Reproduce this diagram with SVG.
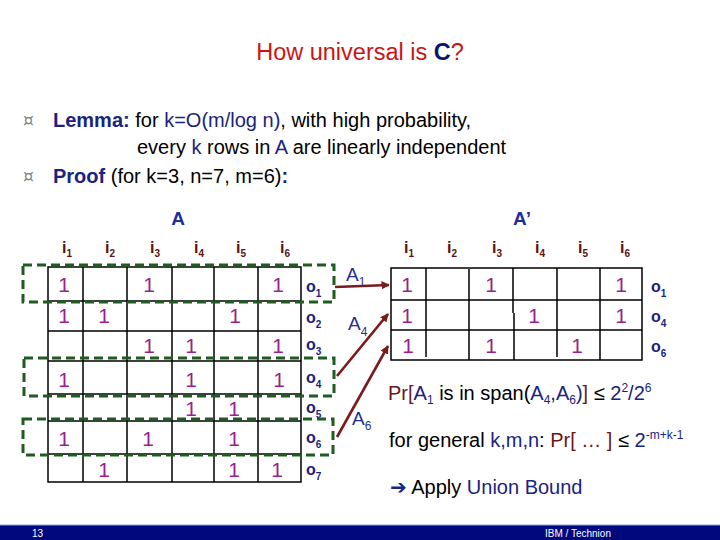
<svg xmlns="http://www.w3.org/2000/svg" width="720" height="540" viewBox="0 0 720 540">
<defs>
<style>
text{font-family:"Liberation Sans",Arial,sans-serif;}
.grid{stroke:#000;stroke-width:1.5;fill:none;}
.dash{stroke:#1f5c1f;stroke-width:3;fill:none;stroke-dasharray:9 5;}
.one{font-size:21px;fill:#9a1f8c;text-anchor:middle;}
.ol{font-size:16px;font-weight:bold;fill:#1a237e;}
.il{font-size:16px;font-weight:bold;fill:#5c1010;}
.sub{font-size:10px;}
.body{font-size:20px;fill:#000;}
.nv{fill:#1a237e;}
.dr{fill:#6b1616;}
.bul{font-size:17px;fill:#7a8a8a;font-family:"DejaVu Sans",sans-serif;}
.arr{stroke:#7a1a1a;stroke-width:2.6;fill:none;}
.al{font-size:19px;fill:#1f2f8f;}
</style>
<marker id="ah" viewBox="0 0 10 10" refX="9" refY="5" markerWidth="3.2" markerHeight="3.2" orient="auto" markerUnits="strokeWidth">
<path d="M0,0 L10,5 L0,10 z" fill="#7a1a1a"/>
</marker>
</defs>
<rect width="720" height="540" fill="#fff"/>

<g id="title">
<text x="360" y="60" font-size="23.5" text-anchor="middle" fill="#cc1414">How universal is <tspan fill="#0a1470" font-weight="bold">C</tspan>?</text>
</g>

<g id="bullets">
<text class="bul" x="23" y="126">¤</text>
<text class="body" x="53" y="127"><tspan font-weight="bold" class="nv">Lemma:</tspan> for <tspan class="nv">k=O(m/log n)</tspan>, with high probability,</text>
<text class="body" x="137" y="154">every <tspan class="nv">k</tspan> rows in <tspan class="nv">A</tspan> are linearly independent</text>
<text class="bul" x="23" y="182">¤</text>
<text class="body" x="53" y="183"><tspan font-weight="bold" class="nv">Proof</tspan> (for k=3, n=7, m=6)<tspan font-weight="bold" class="nv">:</tspan></text>
</g>

<g id="matrixA">
<text x="178" y="225" font-size="19" font-weight="bold" fill="#1c2c9c" text-anchor="middle">A</text>
<text class="il" x="62" y="253">i<tspan class="sub" dy="4">1</tspan></text>
<text class="il" x="105" y="253">i<tspan class="sub" dy="4">2</tspan></text>
<text class="il" x="150" y="253">i<tspan class="sub" dy="4">3</tspan></text>
<text class="il" x="194" y="253">i<tspan class="sub" dy="4">4</tspan></text>
<text class="il" x="236" y="253">i<tspan class="sub" dy="4">5</tspan></text>
<text class="il" x="280" y="253">i<tspan class="sub" dy="4">6</tspan></text>
<path class="grid" d="M48,267H301V482H48Z M48,301H301 M48,331H301 M48,361H301 M48,394H301 M48,421H301 M48,454H301 M83,267V482 M127,267V482 M172,267V482 M214,267V482 M258,267V482"/>
<text class="one" x="64" y="292">1</text><text class="one" x="149" y="292">1</text><text class="one" x="278" y="292">1</text>
<text class="one" x="64" y="323">1</text><text class="one" x="104" y="323">1</text><text class="one" x="235" y="323">1</text>
<text class="one" x="149" y="353">1</text><text class="one" x="191" y="353">1</text><text class="one" x="278" y="353">1</text>
<text class="one" x="64" y="387">1</text><text class="one" x="191" y="387">1</text><text class="one" x="279" y="387">1</text>
<text class="one" x="191" y="416">1</text><text class="one" x="234" y="416">1</text>
<text class="one" x="64" y="446">1</text><text class="one" x="148" y="446">1</text><text class="one" x="234" y="446">1</text>
<text class="one" x="104" y="477">1</text><text class="one" x="234" y="477">1</text><text class="one" x="277" y="477">1</text>
<text class="ol" x="306" y="292">o<tspan class="sub" dy="5">1</tspan></text>
<text class="ol" x="306" y="323">o<tspan class="sub" dy="5">2</tspan></text>
<text class="ol" x="306" y="350">o<tspan class="sub" dy="5">3</tspan></text>
<text class="ol" x="306" y="383">o<tspan class="sub" dy="5">4</tspan></text>
<text class="ol" x="306" y="413">o<tspan class="sub" dy="5">5</tspan></text>
<text class="ol" x="306" y="443">o<tspan class="sub" dy="5">6</tspan></text>
<text class="ol" x="306" y="475">o<tspan class="sub" dy="5">7</tspan></text>
</g>

<g id="boxA1"><rect class="dash" x="23" y="265" width="311" height="37"/></g>
<g id="boxA4"><rect class="dash" x="24" y="358" width="310" height="38"/></g>
<g id="boxA6"><rect class="dash" x="23" y="419" width="310" height="36"/></g>

<g id="matrixAprime">
<text x="513" y="225" font-size="19" font-weight="bold" fill="#1c2c9c">A’</text>
<text class="il" x="404" y="253">i<tspan class="sub" dy="4">1</tspan></text>
<text class="il" x="447" y="253">i<tspan class="sub" dy="4">2</tspan></text>
<text class="il" x="492" y="253">i<tspan class="sub" dy="4">3</tspan></text>
<text class="il" x="535" y="253">i<tspan class="sub" dy="4">4</tspan></text>
<text class="il" x="578" y="253">i<tspan class="sub" dy="4">5</tspan></text>
<text class="il" x="620" y="253">i<tspan class="sub" dy="4">6</tspan></text>
<path class="grid" d="M391,268H642V360H391Z M391,300H642 M391,330H642 M426,268V357 M469,269V360 M513,268V313 M514,313V360 M557,268V357 M600,268V360"/>
<text class="one" x="407" y="292">1</text><text class="one" x="491" y="292">1</text><text class="one" x="621" y="292">1</text>
<text class="one" x="407" y="323">1</text><text class="one" x="534" y="323">1</text><text class="one" x="621" y="323">1</text>
<text class="one" x="408" y="353">1</text><text class="one" x="491" y="353">1</text><text class="one" x="577" y="353">1</text>
<text class="ol" x="651" y="292">o<tspan class="sub" dy="5">1</tspan></text>
<text class="ol" x="651" y="322">o<tspan class="sub" dy="5">4</tspan></text>
<text class="ol" x="651" y="352">o<tspan class="sub" dy="5">6</tspan></text>
</g>

<g id="connectors">
<line class="arr" x1="335" y1="287" x2="389" y2="285" marker-end="url(#ah)"/>
<line class="arr" x1="337" y1="376" x2="388" y2="314" marker-end="url(#ah)"/>
<line class="arr" x1="337" y1="437" x2="388" y2="346" marker-end="url(#ah)"/>
<text class="al" x="346" y="281">A<tspan font-size="12" dy="5">1</tspan></text>
<text class="al" x="348" y="330">A<tspan font-size="12" dy="6">4</tspan></text>
<text class="al" x="352" y="425">A<tspan font-size="12" dy="5">6</tspan></text>
</g>

<g id="notes">
<text class="body" x="388" y="400"><tspan class="dr">Pr[</tspan><tspan class="nv">A</tspan><tspan class="nv" font-size="12" dy="4">1</tspan><tspan dy="-4"> is in span(</tspan><tspan class="nv">A</tspan><tspan class="nv" font-size="12" dy="4">4</tspan><tspan class="nv" dy="-4">,A</tspan><tspan class="nv" font-size="12" dy="4">6</tspan><tspan class="nv" dy="-4">)</tspan><tspan class="dr">]</tspan> ≤ <tspan class="nv">2</tspan><tspan class="nv" font-size="12" dy="-8">2</tspan><tspan class="nv" dy="8">/2</tspan><tspan class="nv" font-size="12" dy="-8">6</tspan></text>
<text class="body" x="389" y="447">for general <tspan class="nv">k,m,n</tspan>: <tspan class="dr">Pr[ … ]</tspan> ≤ <tspan class="nv">2</tspan><tspan class="nv" font-size="12" dy="-8">-m+k-1</tspan></text>
<text class="body" x="390" y="494"><tspan class="nv" font-family="DejaVu Sans,sans-serif" font-size="20" font-weight="bold">➔</tspan> Apply <tspan class="nv">Union Bound</tspan></text>
</g>

<g id="footer">
<rect x="0" y="525" width="720" height="15" fill="#00087e"/>
<line x1="0" y1="525" x2="720" y2="525" stroke="#8ea2e0" stroke-width="1"/>
<text x="32" y="537" font-size="10" fill="#fff">13</text>
<text x="545" y="537" font-size="10" fill="#fff">IBM / Technion</text>
</g>
</svg>
